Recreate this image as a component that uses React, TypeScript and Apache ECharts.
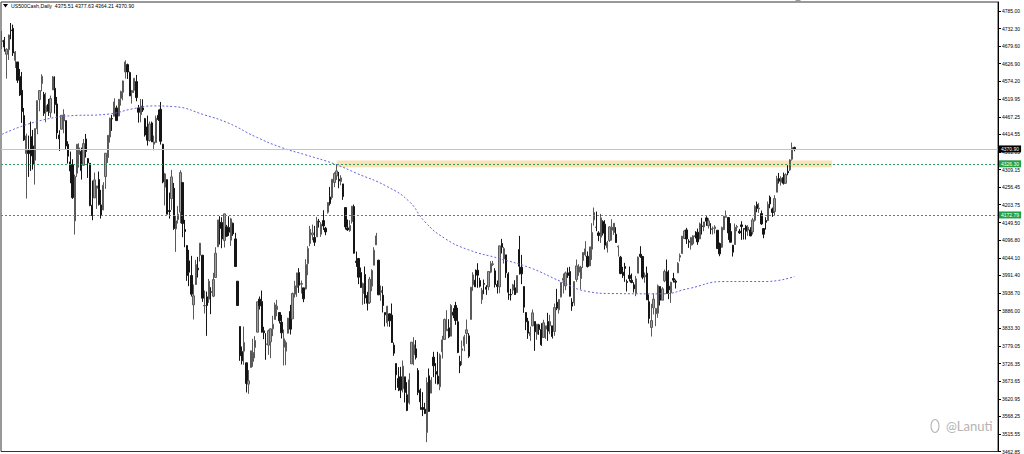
import { useEffect, useRef } from "react";
import * as echarts from "echarts";

// [open, high, low, close]
const bars2022Q1: number[][] = [
  [4693,4725,4671,4696],[4697,4707,4663,4677],[4655,4673,4582,4670],[4669,4714,4638,4713],[4728,4749,4700,4726],
  [4733,4744,4650,4659],[4637,4665,4614,4662],[4632,4632,4569,4577],[4588,4611,4530,4533],[4547,4602,4449,4483],
  [4471,4494,4395,4398],[4357,4417,4222,4410],[4366,4411,4287,4357],[4408,4453,4305,4350],[4380,4428,4309,4326],
  [4337,4432,4264,4432],[4431,4516,4415,4516],
  [4519,4547,4484,4546],[4567,4595,4544,4589],[4535,4542,4470,4478],[4482,4540,4451,4501],[4505,4521,4470,4484],
  [4480,4531,4465,4522],[4548,4590,4548,4587],[4553,4589,4477,4504],[4506,4527,4401,4419],[4413,4427,4365,4401],
  [4430,4472,4430,4472],[4455,4490,4418,4475],[4456,4456,4370,4380],[4385,4394,4327,4349],[4332,4363,4268,4305],
  [4324,4340,4221,4225],[4155,4294,4114,4288],[4298,4385,4287,4385],[4354,4388,4315,4374],
  [4364,4375,4279,4306],[4322,4401,4322,4387],[4401,4416,4345,4363],[4342,4343,4284,4329],[4328,4328,4199,4201],
  [4202,4276,4157,4171],[4224,4300,4224,4278],[4253,4259,4191,4260],[4279,4303,4201,4204],[4203,4248,4162,4173],
  [4188,4271,4187,4262],[4288,4358,4251,4358],[4345,4412,4329,4412],[4407,4465,4390,4463],[4462,4473,4425,4461],
  [4469,4523,4469,4512],[4494,4501,4455,4456],[4470,4521,4469,4520],[4523,4546,4501,4543],[4541,4576,4517,4575],
  [4602,4637,4582,4632],[4624,4627,4581,4602],[4600,4603,4530,4530],
];
const bars2022Q2: number[][] = [
  [4540,4548,4507,4546],[4547,4583,4539,4583],[4573,4593,4514,4525],[4494,4503,4450,4481],[4474,4521,4451,4500],
  [4494,4520,4482,4488],[4462,4464,4408,4413],[4437,4471,4381,4397],[4396,4453,4393,4446],[4449,4453,4392,4392],
  [4385,4411,4367,4392],[4390,4471,4390,4463],[4472,4489,4455,4459],[4490,4512,4384,4394],[4385,4386,4268,4272],
  [4256,4299,4201,4296],[4279,4279,4175,4175],[4186,4240,4162,4183],[4222,4308,4188,4287],[4253,4269,4128,4132],
  [4131,4170,4062,4155],[4159,4200,4147,4175],[4181,4307,4148,4300],[4270,4270,4106,4147],[4129,4158,4076,4123],
  [4081,4082,3975,3991],[4035,4068,3959,4001],[3991,4050,3928,3935],[3903,3964,3859,3930],[3964,4038,3963,4024],
  [4013,4047,3985,4008],[4052,4089,4033,4088],[4052,4052,3912,3923],[3900,3946,3877,3901],[3927,3943,3810,3901],
  [3920,3981,3909,3974],[3942,3956,3875,3941],[3929,3999,3926,3979],[3985,4076,3985,4058],[4077,4158,4077,4158],
  [4151,4169,4084,4132],
  [4150,4166,4073,4101],[4096,4177,4075,4176],[4137,4143,4107,4109],[4135,4169,4110,4121],[4097,4164,4080,4161],
  [4148,4150,4110,4116],[4101,4119,4017,4018],[3974,3974,3900,3901],[3838,3838,3735,3750],[3763,3778,3724,3735],
  [3764,3838,3723,3790],[3729,3729,3640,3667],[3665,3707,3636,3675],[3715,3765,3715,3765],[3733,3801,3717,3760],
  [3775,3809,3743,3796],[3821,3913,3821,3912],[3920,3928,3889,3900],[3913,3946,3820,3821],[3825,3837,3800,3819],
  [3785,3818,3738,3785],
];
const bars2022Q3: number[][] = [
  [3782,3829,3753,3825],[3792,3832,3743,3831],[3831,3870,3809,3845],[3859,3910,3859,3903],[3889,3918,3869,3899],
  [3880,3880,3847,3855],[3851,3873,3802,3819],[3776,3829,3721,3801],[3764,3796,3722,3790],[3818,3864,3817,3863],
  [3883,3903,3814,3830],[3861,3940,3861,3937],[3935,3975,3925,3960],[3955,3999,3927,3999],[4000,4013,3939,3962],
  [3965,3976,3937,3967],[3954,3954,3911,3921],[3951,4040,3949,4024],[4027,4079,3992,4072],[4087,4140,4079,4130],
  [4113,4144,4097,4119],[4105,4140,4080,4091],[4107,4167,4107,4155],[4154,4161,4135,4152],[4115,4151,4107,4145],
  [4156,4187,4128,4140],[4133,4137,4112,4122],[4181,4211,4177,4210],[4227,4257,4201,4207],[4225,4280,4219,4280],
  [4270,4301,4256,4297],[4290,4325,4278,4305],[4280,4302,4253,4275],[4273,4292,4262,4284],[4266,4266,4218,4228],
  [4195,4196,4129,4137],[4134,4159,4125,4128],[4126,4157,4122,4141],[4153,4200,4147,4199],[4198,4204,4057,4058],
  [4034,4063,4017,4030],[4042,4044,3965,3986],[4000,4015,3954,3955],
  [3937,3970,3903,3967],[3994,4018,3906,3924],[3931,3942,3886,3908],[3910,3987,3906,3980],[3959,4010,3944,4006],
  [4022,4076,4022,4067],[4083,4119,4083,4110],[4037,4038,3933,3933],[3940,3961,3915,3946],[3932,3959,3880,3901],
  [3880,3880,3838,3873],[3849,3900,3838,3899],[3876,3877,3837,3855],[3872,3907,3789,3790],[3782,3790,3750,3758],
  [3727,3727,3647,3693],[3682,3716,3644,3655],[3687,3717,3623,3647],[3651,3736,3640,3719],[3687,3687,3610,3640],
  [3633,3671,3584,3586],
];
const bars2022Q4: number[][] = [
  [3609,3698,3604,3678],[3726,3791,3726,3791],[3753,3806,3722,3783],[3771,3797,3739,3745],[3706,3713,3632,3640],
  [3647,3652,3588,3612],[3595,3641,3569,3589],[3590,3609,3575,3577],[3520,3685,3491,3670],[3690,3712,3584,3583],
  [3638,3686,3638,3677],[3746,3762,3686,3720],[3703,3728,3666,3695],[3689,3762,3664,3666],[3657,3757,3647,3752],
  [3762,3810,3742,3798],[3799,3862,3799,3859],[3825,3887,3825,3830],[3834,3860,3803,3807],[3809,3905,3809,3901],
  [3881,3893,3863,3872],
  [3901,3912,3843,3856],[3852,3894,3758,3760],[3733,3750,3698,3720],[3766,3796,3722,3771],[3780,3813,3764,3807],
  [3817,3859,3786,3828],[3810,3818,3744,3749],[3859,3957,3859,3956],[3963,4001,3945,3993],[3977,4009,3965,3957],
  [4007,4028,3954,3992],[3976,3984,3955,3959],[3919,3954,3906,3947],[3967,3979,3935,3965],[3956,3962,3933,3950],
  [3957,4004,3947,4003],[4001,4034,3998,4027],[4024,4035,4020,4026],[4005,4013,3955,3964],[3964,3976,3937,3958],
  [3957,4080,3938,4080],
  [4087,4101,4057,4076],[4041,4077,4027,4072],[4053,4053,3984,3999],[3996,4001,3918,3941],[3934,3951,3916,3933],
  [3947,3966,3935,3963],[3954,3977,3933,3934],[3940,3991,3938,3991],[4069,4110,3994,4019],[4016,4053,3965,3996],
  [3958,3958,3879,3896],[3880,3881,3827,3852],[3854,3864,3801,3818],[3810,3838,3795,3821],[3840,3889,3839,3879],
  [3853,3853,3765,3822],[3815,3845,3798,3845],[3843,3846,3813,3829],[3829,3848,3780,3783],[3805,3858,3805,3849],
  [3830,3840,3801,3840],
];
const bars2023Q1: number[][] = [
  [3853,3879,3795,3824],[3840,3873,3815,3853],[3840,3840,3802,3808],[3823,3907,3810,3895],[3911,3951,3887,3893],
  [3888,3920,3877,3919],[3927,3970,3925,3970],[3977,3997,3937,3983],[3960,4003,3947,3999],[3999,4015,3984,3991],
  [4003,4017,3928,3929],[3911,3923,3885,3899],[3909,3973,3900,3973],[3979,4039,3972,4020],[4001,4025,3990,4017],
  [3982,4020,3949,4016],[4036,4061,4014,4060],[4053,4094,4048,4071],[4049,4063,4015,4018],[4020,4077,4020,4077],
  [4070,4148,4038,4120],[4158,4195,4141,4180],[4136,4183,4124,4136],[4119,4124,4094,4111],[4106,4176,4089,4164],
  [4153,4157,4111,4118],[4145,4157,4069,4082],[4074,4095,4060,4090],[4096,4138,4092,4137],[4127,4160,4096,4136],
  [4120,4148,4113,4148],[4115,4136,4090,4090],[4077,4081,4048,4079],[4046,4050,3995,3997],[4001,4017,3984,3991],
  [4018,4029,3972,4012],[3973,3979,3943,3970],[3992,4018,3973,3982],[3977,3997,3968,3970],
  [3963,3971,3940,3951],[3938,3990,3929,3981],[3998,4048,3998,4046],[4055,4079,4044,4048],[4048,4050,3980,3986],
  [3987,4000,3969,3992],[3998,4018,3918,3918],[3912,3934,3847,3862],[3835,3906,3808,3856],[3894,3937,3874,3920],
  [3876,3894,3839,3892],[3878,3964,3864,3960],[3958,3958,3901,3917],[3917,3956,3917,3951],[3975,4009,3971,4003],
  [4002,4039,3937,3937],[3959,4007,3920,3948],[3939,3972,3909,3971],[3982,3999,3970,3977],[3974,3979,3952,3971],
  [3999,4031,3999,4028],[4046,4057,4033,4051],[4057,4110,4056,4109],
];
const bars2023Q2: number[][] = [
  [4102,4128,4101,4125],[4128,4134,4086,4101],[4094,4100,4074,4091],[4082,4107,4069,4105],[4086,4112,4082,4110],
  [4110,4124,4102,4109],[4121,4132,4083,4092],[4101,4150,4100,4146],[4140,4164,4114,4138],[4137,4152,4124,4152],
  [4164,4169,4140,4154],[4140,4163,4132,4155],[4131,4148,4115,4130],[4132,4138,4114,4133],[4132,4142,4117,4137],
  [4127,4127,4072,4072],[4087,4090,4049,4056],[4076,4138,4074,4135],[4129,4170,4127,4169],
  [4166,4186,4164,4168],[4165,4165,4098,4119],[4123,4148,4090,4091],[4082,4083,4048,4061],[4084,4147,4084,4136],
  [4136,4143,4124,4138],[4124,4131,4116,4119],[4143,4154,4098,4138],[4132,4132,4099,4130],[4139,4143,4099,4124],
  [4127,4142,4110,4136],[4128,4136,4109,4110],[4122,4164,4114,4158],[4157,4202,4153,4198],[4204,4213,4181,4192],
  [4191,4209,4179,4193],[4177,4186,4143,4146],[4132,4133,4103,4115],[4156,4166,4129,4151],[4156,4213,4155,4205],
  [4226,4231,4193,4206],[4191,4195,4167,4180],
  [4183,4232,4172,4222],[4241,4290,4241,4282],[4282,4299,4267,4274],[4271,4289,4261,4283],[4285,4300,4264,4268],
  [4268,4298,4266,4294],[4304,4322,4292,4299],[4308,4340,4305,4338],[4340,4390,4336,4375],
  [4375.51,4377.63,4364.21,4370.90],
];

// 200-period moving average, read at [bar index, value]
const maPoints: number[][] = [
  [0,4415],[27,4468],[49,4476],[59,4491],[69,4500],[78,4498],[92,4473],[103,4448],[115,4408],
  [127,4375],[138,4353],[151,4326],[161,4298],[175,4258],[185,4213],[192,4153],[201,4103],
  [212,4068],[226,4042],[240,4014],[254,3973],[266,3943],[277,3937],[300,3936],[312,3952],
  [328,3973],[347,3973],[360,3988],
];

const priceTicks: number[] = [
  4785.0, 4732.3, 4679.6, 4626.9, 4574.2, 4519.95, 4467.25, 4414.55, 4361.85, 4309.15, 4256.45,
  4203.75, 4149.5, 4096.8, 4044.1, 3991.4, 3938.7, 3886.0, 3833.3, 3779.05, 3726.35, 3673.65,
  3620.95, 3568.25, 3515.55, 3462.85,
];

const bidPrice = 4370.9;
const levelUpper = 4326.3;
const levelLower = 4172.79;
const zoneTop = 4336;
const zoneBottom = 4316;
const zoneStartBar = 152;
const zoneEndBar = 377;
const totalSlots = 453;
const yMin = 3462.85;
const yMax = 4811.95;
const header = "US500Cash,Daily  4375.51 4377.63 4364.21 4370.90";

export default function App() {
  const ref = useRef<HTMLDivElement>(null);
  useEffect(() => {
    const chart = echarts.init(ref.current!, null, { renderer: "svg" });
    const bars = [...bars2022Q1, ...bars2022Q2, ...bars2022Q3, ...bars2022Q4, ...bars2023Q1, ...bars2023Q2];
    const candles = bars.map(([o, h, l, c]) => [o, c, l, h]);
    const cats = Array.from({ length: totalSlots }, (_, i) => String(i));
    const font = "Liberation Sans";
    const lvlLabel = (bg: string) => ({
      show: true,
      position: "end",
      distance: 1,
      formatter: (p: any) => Number(p.value).toFixed(2),
      fontSize: 5,
      fontFamily: font,
      color: "#fff",
      backgroundColor: bg,
      padding: [1, 2, 1, 2],
    });
    chart.setOption({
      animation: false,
      backgroundColor: "#fff",
      grid: { left: 1, right: 26, top: 2, bottom: 2, show: true, borderColor: "#333", borderWidth: 1 },
      xAxis: {
        type: "category",
        data: cats,
        boundaryGap: true,
        axisLine: { show: false },
        axisTick: { show: false },
        axisLabel: { show: false },
        splitLine: { show: false },
      },
      yAxis: {
        type: "value",
        position: "right",
        min: yMin,
        max: yMax,
        scale: true,
        axisLine: { show: true, lineStyle: { color: "#000", width: 1 } },
        axisTick: { show: true, length: 3, customValues: priceTicks, lineStyle: { color: "#000" } },
        axisLabel: {
          customValues: priceTicks,
          formatter: (v: number) => v.toFixed(2),
          fontSize: 5,
          fontFamily: font,
          color: "#000",
          margin: 4,
        },
        splitLine: { show: false },
      },
      series: [
        {
          type: "candlestick",
          data: candles,
          barWidth: 1.8,
          itemStyle: {
            color: "#a0a0a0",
            color0: "#151515",
            borderColor: "#5a5a5a",
            borderColor0: "#151515",
            borderWidth: 1,
          },
          markLine: {
            silent: true,
            symbol: ["none", "none"],
            animation: false,
            data: [
              { yAxis: bidPrice, lineStyle: { color: "#c4c4c4", type: "solid", width: 1 }, label: lvlLabel("#000") },
              { yAxis: levelUpper, lineStyle: { color: "#2f9e5c", type: [2, 2], width: 1 }, label: lvlLabel("#23a046") },
              { yAxis: levelLower, lineStyle: { color: "#2f9e5c", type: [2, 2], width: 1 }, label: lvlLabel("#23a046") },
            ],
          },
          markArea: {
            silent: true,
            itemStyle: { color: "rgba(248, 196, 110, 0.5)" },
            data: [[{ xAxis: String(zoneStartBar), yAxis: zoneTop }, { xAxis: String(zoneEndBar), yAxis: zoneBottom }]],
          },
        },
        {
          type: "line",
          data: maPoints,
          showSymbol: false,
          smooth: true,
          z: 3,
          lineStyle: { color: "#6464dc", width: 1, type: [2, 2] },
        },
      ],
      graphic: [
        { type: "polygon", shape: { points: [[3, 4], [8, 4], [5.5, 7.5]] }, style: { fill: "#000" } },
        {
          type: "text",
          x: 11,
          y: 6,
          style: { text: header, fontSize: 5.2, fontFamily: font, fill: "#000", verticalAlign: "middle" },
        },
        { type: "polygon", shape: { points: [[795, 0], [801, 0], [798, 3]] }, style: { fill: "#999" } },
        {
          type: "ellipse",
          shape: { cx: 935, cy: 426, rx: 4, ry: 6.5 },
          style: { fill: "none", stroke: "#b4b4b4", lineWidth: 1.1 },
        },
        {
          type: "text",
          x: 946,
          y: 426,
          z: 100,
          style: { text: "@Lanuti", fontSize: 13, fontFamily: "Lato", fill: "#b4b4b4", verticalAlign: "middle" },
        },
      ],
    });
    return () => chart.dispose();
  }, []);
  return (
    <div
      ref={ref}
      style={{ position: "fixed", left: 0, top: 0, width: 1024, height: 454, background: "#fff" }}
    />
  );
}
